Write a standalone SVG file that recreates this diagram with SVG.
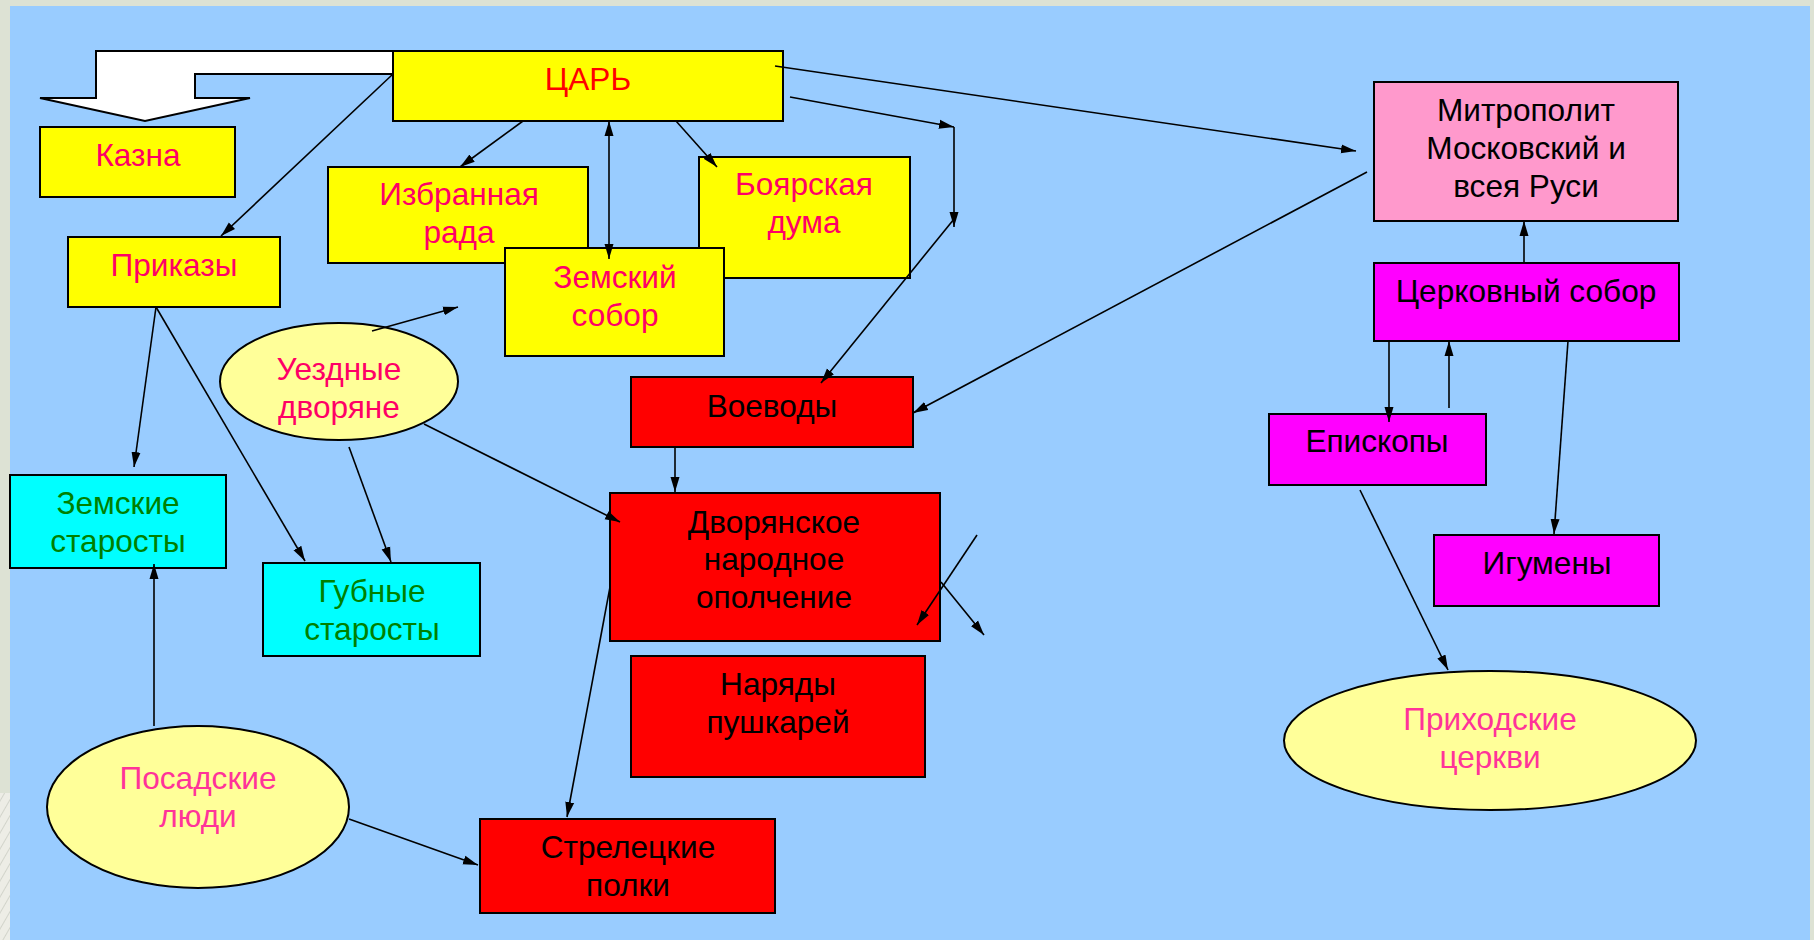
<svg xmlns="http://www.w3.org/2000/svg" width="1814" height="940" viewBox="0 0 1814 940">
<style>
  .box { stroke: #000; stroke-width: 2; }
  .yel { fill: #FFFF00; }
  .red { fill: #FF0000; }
  .cyan { fill: #00FFFF; }
  .mag { fill: #FF00FF; }
  .pink { fill: #FF99CC; }
  .oval { fill: #FFFF99; stroke: #000; stroke-width: 2; }
  text { font-family: "Liberation Sans", Arial, sans-serif; font-size: 31.6px; text-anchor: middle; }
  .t-red { fill: #FF0000; }
  .t-crim { fill: #FF0066; }
  .t-pink { fill: #FF3399; }
  .t-blk { fill: #000; }
  .t-grn { fill: #008000; }
  .conn line, .conn path { stroke: #000; stroke-width: 1.6; fill: none; }
</style>
<defs>
  <marker id="ah" markerUnits="userSpaceOnUse" markerWidth="16" markerHeight="10" refX="15" refY="5" orient="auto-start-reverse">
    <path d="M0,0.5 L15,5 L0,9.5 z" fill="#000"/>
  </marker>
  <pattern id="hatch" patternUnits="userSpaceOnUse" width="8" height="8" patternTransform="rotate(30)">
    <rect width="8" height="8" fill="#EDEDE6"/>
    <line x1="0" y1="0" x2="0" y2="8" stroke="#C9CCC2" stroke-width="1.5"/>
  </pattern>
</defs>

<!-- slide background -->
<rect x="0" y="0" width="1814" height="940" fill="#DDE2D4"/>
<rect x="0" y="793" width="10" height="147" fill="url(#hatch)"/>
<rect x="10" y="6" width="1800" height="934" fill="#99CCFF"/>

<!-- white block arrow to Казна -->
<g id="block-arrow">
  <polygon points="393,51 96,51 96,98 40,98 145,121 250,98 195,98 195,74 393,74" fill="#FFFFFF" stroke="#000" stroke-width="2"/>
</g>

<g id="tsar">
  <rect class="box yel" x="393" y="51" width="390" height="70"/>
  <text class="t-red" x="588" y="90">ЦАРЬ</text>
</g>
<g id="kazna">
  <rect class="box yel" x="40" y="127" width="195" height="70"/>
  <text class="t-crim" x="138" y="166">Казна</text>
</g>
<g id="prikazy">
  <rect class="box yel" x="68" y="237" width="212" height="70"/>
  <text class="t-crim" x="174" y="276">Приказы</text>
</g>
<g id="izbrannaya-rada">
  <rect class="box yel" x="328" y="167" width="260" height="96"/>
  <text class="t-crim" x="459" y="205">Избранная</text>
  <text class="t-crim" x="459" y="243">рада</text>
</g>
<g id="boyarskaya-duma">
  <rect class="box yel" x="699" y="157" width="211" height="121"/>
  <text class="t-crim" x="804" y="195">Боярская</text>
  <text class="t-crim" x="804" y="233">дума</text>
</g>
<g id="zemsky-sobor">
  <rect class="box yel" x="505" y="248" width="219" height="108"/>
  <text class="t-crim" x="615" y="288">Земский</text>
  <text class="t-crim" x="615" y="326">собор</text>
</g>
<g id="uezdnye-dvoryane">
  <ellipse class="oval" cx="339" cy="381.5" rx="119" ry="58.5"/>
  <text class="t-crim" x="339" y="380">Уездные</text>
  <text class="t-crim" x="339" y="418">дворяне</text>
</g>
<g id="zemskie-starosty">
  <rect class="box cyan" x="10" y="475" width="216" height="93"/>
  <text class="t-grn" x="118" y="514">Земские</text>
  <text class="t-grn" x="118" y="552">старосты</text>
</g>
<g id="gubnye-starosty">
  <rect class="box cyan" x="263" y="563" width="217" height="93"/>
  <text class="t-grn" x="372" y="602">Губные</text>
  <text class="t-grn" x="372" y="640">старосты</text>
</g>
<g id="posadskie-lyudi">
  <ellipse class="oval" cx="198" cy="807" rx="151" ry="81"/>
  <text class="t-pink" x="198" y="789">Посадские</text>
  <text class="t-pink" x="198" y="827">люди</text>
</g>
<g id="voevody">
  <rect class="box red" x="631" y="377" width="282" height="70"/>
  <text class="t-blk" x="772" y="417">Воеводы</text>
</g>
<g id="dvoryanskoe-opolchenie">
  <rect class="box red" x="610" y="493" width="330" height="148"/>
  <text class="t-blk" x="774" y="533">Дворянское</text>
  <text class="t-blk" x="774" y="570">народное</text>
  <text class="t-blk" x="774" y="608">ополчение</text>
</g>
<g id="naryady-pushkarey">
  <rect class="box red" x="631" y="656" width="294" height="121"/>
  <text class="t-blk" x="778" y="695">Наряды</text>
  <text class="t-blk" x="778" y="733">пушкарей</text>
</g>
<g id="streletskie-polki">
  <rect class="box red" x="480" y="819" width="295" height="94"/>
  <text class="t-blk" x="628" y="858">Стрелецкие</text>
  <text class="t-blk" x="628" y="896">полки</text>
</g>
<g id="mitropolit">
  <rect class="box pink" x="1374" y="82" width="304" height="139"/>
  <text class="t-blk" x="1526" y="121">Митрополит</text>
  <text class="t-blk" x="1526" y="159">Московский и</text>
  <text class="t-blk" x="1526" y="197">всея Руси</text>
</g>
<g id="tserkovny-sobor">
  <rect class="box mag" x="1374" y="263" width="305" height="78"/>
  <text class="t-blk" x="1526" y="302">Церковный собор</text>
</g>
<g id="episkopy">
  <rect class="box mag" x="1269" y="414" width="217" height="71"/>
  <text class="t-blk" x="1377" y="452">Епископы</text>
</g>
<g id="igumeny">
  <rect class="box mag" x="1434" y="535" width="225" height="71"/>
  <text class="t-blk" x="1547" y="574">Игумены</text>
</g>
<g id="prikhodskie-tserkvi">
  <ellipse class="oval" cx="1490" cy="740.5" rx="206" ry="69.5"/>
  <text class="t-pink" x="1490" y="730">Приходские</text>
  <text class="t-pink" x="1490" y="768">церкви</text>
</g>

<g id="connectors" class="conn">
  <line x1="393" y1="74" x2="221" y2="236" marker-end="url(#ah)"/>
  <line x1="523" y1="121" x2="460" y2="167" marker-end="url(#ah)"/>
  <line x1="609" y1="121" x2="609" y2="259" marker-start="url(#ah)" marker-end="url(#ah)"/>
  <line x1="676" y1="121" x2="717" y2="167" marker-end="url(#ah)"/>
  <line x1="775" y1="66" x2="1356" y2="151" marker-end="url(#ah)"/>
  <line x1="790" y1="97" x2="954" y2="127" marker-end="url(#ah)"/>
  <line x1="954" y1="127" x2="954" y2="227" marker-end="url(#ah)"/>
  <line x1="954" y1="219" x2="821" y2="383" marker-end="url(#ah)"/>
  <line x1="1367" y1="172" x2="913" y2="413" marker-end="url(#ah)"/>
  <line x1="1524" y1="263" x2="1524" y2="221" marker-end="url(#ah)"/>
  <line x1="1389" y1="341" x2="1389" y2="422" marker-end="url(#ah)"/>
  <line x1="1449" y1="408" x2="1449" y2="341" marker-end="url(#ah)"/>
  <line x1="1568" y1="341" x2="1554" y2="534" marker-end="url(#ah)"/>
  <line x1="1360" y1="490" x2="1448" y2="670" marker-end="url(#ah)"/>
  <line x1="156" y1="307" x2="134" y2="467" marker-end="url(#ah)"/>
  <line x1="156" y1="307" x2="305" y2="561" marker-end="url(#ah)"/>
  <line x1="372" y1="331" x2="458" y2="307" marker-end="url(#ah)"/>
  <line x1="349" y1="447" x2="391" y2="562" marker-end="url(#ah)"/>
  <line x1="424" y1="424" x2="620" y2="522" marker-end="url(#ah)"/>
  <line x1="675" y1="447" x2="675" y2="492" marker-end="url(#ah)"/>
  <line x1="610" y1="587" x2="567" y2="817" marker-end="url(#ah)"/>
  <line x1="349" y1="819" x2="478" y2="865" marker-end="url(#ah)"/>
  <line x1="154" y1="726" x2="154" y2="564" marker-end="url(#ah)"/>
  <line x1="977" y1="535" x2="917" y2="625" marker-end="url(#ah)"/>
  <line x1="941" y1="582" x2="984" y2="635" marker-end="url(#ah)"/>
</g>
</svg>
